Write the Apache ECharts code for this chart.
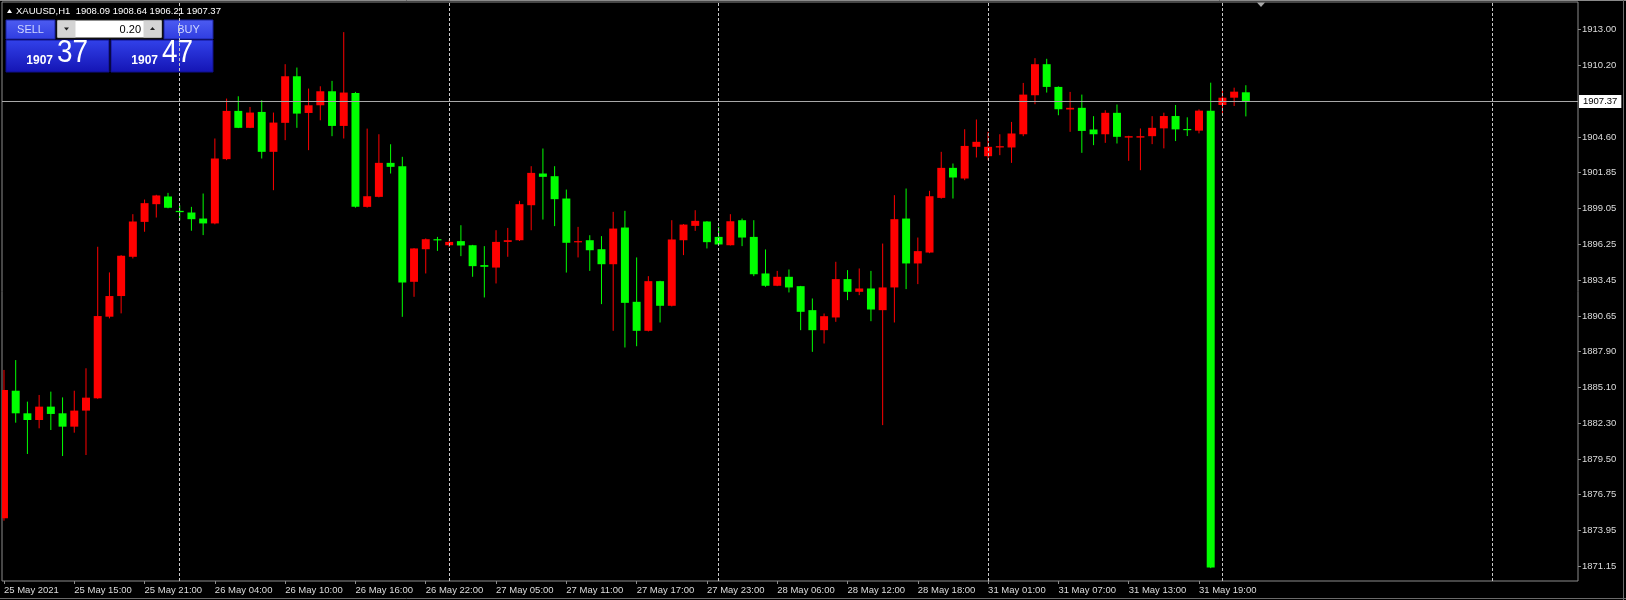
<!DOCTYPE html>
<html><head><meta charset="utf-8">
<script src="https://cdn.jsdelivr.net/npm/echarts@6/dist/echarts.min.js"></script>
<style>html,body{margin:0;padding:0;background:#000;overflow:hidden}#c{width:1626px;height:600px}</style>
</head><body><div id="c"></div>
<script>
// ---- data (XAUUSD H1, bar index 0 = 25 May 2021 09:00) ----
const opens  = [1874.89,1884.83,1883.07,1882.55,1883.59,1883.07,1882.03,1883.28,1884.24,1890.60,
1892.21,1895.27,1897.99,1899.37,1899.97,1898.85,1898.72,1898.25,1897.87,1902.88,
1906.64,1905.32,1906.56,1903.45,1905.71,1909.34,1906.48,1907.08,1908.17,1905.47,
1908.04,1899.16,1899.94,1902.59,1902.33,1893.32,1895.86,1896.64,1896.17,1896.49,
1896.17,1894.62,1894.43,1896.43,1896.56,1899.29,1901.76,1901.55,1899.81,1896.41,
1896.56,1895.86,1894.69,1897.55,1891.76,1889.50,1893.37,1891.45,1896.56,1897.68,
1898.02,1896.82,1896.17,1898.12,1896.82,1893.97,1893.01,1893.71,1892.98,1891.11,
1889.55,1890.54,1893.53,1892.54,1892.80,1891.11,1892.88,1898.25,1894.75,1895.60,
1899.86,1902.20,1901.37,1903.84,1903.11,1903.79,1903.79,1904.82,1907.86,1910.28,
1908.51,1906.75,1906.88,1905.19,1904.82,1906.49,1904.56,1904.56,1904.67,1905.28,
1906.24,1905.23,1905.10,1906.66,1907.10,1907.67,1908.09];
const highs  = [1886.45,1887.22,1883.98,1884.50,1884.76,1884.31,1884.83,1886.58,1896.05,1894.05,
1895.40,1898.59,1899.73,1900.10,1900.25,1899.29,1899.16,1900.20,1904.49,1907.60,
1907.78,1906.95,1907.47,1906.51,1910.28,1910.02,1908.38,1908.56,1908.98,1912.78,
1908.12,1905.26,1904.82,1904.04,1903.06,1895.95,1896.70,1896.82,1896.60,1897.73,
1896.20,1896.10,1897.34,1897.52,1899.63,1902.33,1903.71,1902.33,1900.51,1897.60,
1896.95,1896.88,1898.77,1898.85,1895.22,1893.76,1893.40,1898.12,1897.82,1898.90,
1898.05,1897.60,1898.59,1898.25,1898.12,1895.84,1894.17,1894.28,1893.00,1892.02,
1890.85,1894.88,1894.23,1894.36,1894.17,1896.30,1900.07,1900.59,1896.77,1900.41,
1903.45,1902.54,1905.21,1905.97,1905.01,1904.82,1905.78,1908.82,1910.75,1910.70,
1908.55,1908.12,1907.91,1906.23,1906.69,1907.14,1904.70,1905.27,1906.23,1906.50,
1907.10,1906.14,1906.76,1908.84,1908.40,1908.45,1908.64];
const lows   = [1874.70,1882.34,1879.90,1881.90,1881.77,1879.74,1881.56,1879.82,1884.20,1890.47,
1890.86,1895.14,1897.22,1898.33,1899.05,1898.12,1897.30,1896.96,1897.80,1902.80,
1905.30,1905.30,1902.93,1900.46,1904.36,1905.32,1903.58,1905.91,1904.67,1904.49,
1899.10,1899.10,1899.90,1901.76,1890.59,1892.15,1893.97,1895.73,1896.05,1895.32,
1893.71,1892.10,1893.19,1895.27,1896.50,1897.34,1898.17,1897.66,1894.04,1895.22,
1894.17,1891.58,1889.50,1888.20,1888.30,1889.45,1890.15,1891.40,1895.40,1897.29,
1895.92,1896.20,1896.15,1896.10,1893.76,1892.93,1892.98,1892.49,1889.55,1887.86,
1888.51,1890.20,1891.89,1892.28,1890.25,1882.15,1890.15,1892.75,1893.14,1895.55,
1899.80,1899.81,1901.24,1903.01,1902.80,1903.19,1902.59,1904.67,1907.16,1908.07,
1906.30,1905.01,1903.37,1903.97,1904.15,1904.10,1902.75,1902.02,1904.05,1903.72,
1904.29,1904.68,1904.89,1871.00,1906.40,1907.02,1906.21];
const closes = [1884.89,1883.07,1882.55,1883.59,1883.02,1882.03,1883.28,1884.29,1890.65,1892.21,
1895.35,1898.02,1899.45,1900.05,1899.09,1898.75,1898.20,1897.87,1902.93,1906.64,
1905.32,1906.51,1903.45,1905.73,1909.34,1906.43,1907.08,1908.17,1905.47,1908.07,
1899.16,1899.99,1902.59,1902.28,1893.27,1895.92,1896.64,1896.56,1896.43,1896.15,
1894.54,1894.49,1896.43,1896.56,1899.37,1901.81,1901.50,1899.76,1896.36,1896.49,
1895.78,1894.69,1897.47,1891.68,1889.50,1893.37,1891.45,1896.62,1897.78,1898.07,
1896.41,1896.23,1898.04,1896.77,1893.91,1893.01,1893.71,1892.88,1890.98,1889.55,
1890.64,1893.53,1892.54,1892.80,1891.16,1892.88,1898.20,1894.75,1895.71,1899.99,
1902.20,1901.45,1903.91,1904.23,1903.84,1903.89,1904.88,1907.91,1910.28,1908.51,
1906.77,1906.88,1905.08,1904.82,1906.49,1904.62,1904.67,1904.67,1905.32,1906.24,
1905.20,1905.15,1906.66,1871.05,1907.67,1908.14,1907.37];

const xTickIndex  = [0,6,12,18,24,30,36,42,48,54,60,66,72,78,84,90,96,102];
const xTickLabels = ['25 May 2021','25 May 15:00','25 May 21:00','26 May 04:00','26 May 10:00','26 May 16:00',
  '26 May 22:00','27 May 05:00','27 May 11:00','27 May 17:00','27 May 23:00','28 May 06:00',
  '28 May 12:00','28 May 18:00','31 May 01:00','31 May 07:00','31 May 13:00','31 May 19:00'];
const yTickValues = [1913.00,1910.20,1904.60,1901.85,1899.05,1896.25,1893.45,1890.65,1887.90,
  1885.10,1882.30,1879.50,1876.75,1873.95,1871.15];
const daySeparators = [15,38,61,84,104,127];
const lastPrice = 1907.37;
const headerText = 'XAUUSD,H1  1908.09 1908.64 1906.21 1907.37';
const lotText = '0.20';
const sellQuote = ['1907','37'];
const buyQuote  = ['1907','47'];

// ---- chart ----
const UP = '#ff0000', DOWN = '#00ff00';
const FONT = '"Liberation Sans", Arial, sans-serif';
const candles = opens.map((o,i)=>[i,o,closes[i],lows[i],highs[i]]);

function renderCandle(params, api){
  const i=api.value(0), o=api.value(1), c=api.value(2), l=api.value(3), h=api.value(4);
  const pO=api.coord([i,o]), pC=api.coord([i,c]), pL=api.coord([i,l]), pH=api.coord([i,h]);
  const x=pO[0];
  const bw=api.size([1,0])[0]*0.68;
  const top=Math.min(pO[1],pC[1]), bot=Math.max(pO[1],pC[1]);
  const col = c>=o ? UP : DOWN;
  const cs = params.coordSys;
  const bodyRect = echarts.graphic.clipRectByRect(
    {x:x-bw/2, y:top, width:bw, height:Math.max(bot-top,1.2)},
    {x:cs.x, y:cs.y, width:cs.width, height:cs.height});
  const children = [];
  if (x >= cs.x && x <= cs.x + cs.width) {
    children.push({type:'line', shape:{x1:x,y1:pH[1],x2:x,y2:pL[1]}, style:{stroke:col,lineWidth:1}});
  }
  if (bodyRect) children.push({type:'rect', shape:bodyRect, style:{fill:col}});
  return {type:'group', children:children};
}

const chart = echarts.init(document.getElementById('c'), null, {renderer:'canvas'});

function btn(x,y,w,h,label){
  return [
    {type:'rect', shape:{x:x,y:y,width:w,height:h}, style:{fill:new echarts.graphic.LinearGradient(0,0,0,1,[{offset:0,color:'#4d5cf2'},{offset:1,color:'#2f3de0'}]), stroke:'#1a22a0', lineWidth:1}},
    {type:'text', x:x+w/2, y:y+h/2, style:{text:label, fill:'#cfd6ff', font:'11px '+FONT, align:'center', verticalAlign:'middle'}}
  ];
}
function quote(x,y,w,h,q){
  return [
    {type:'rect', shape:{x:x,y:y,width:w,height:h}, style:{fill:new echarts.graphic.LinearGradient(0,0,0,1,[{offset:0,color:'#3242ea'},{offset:1,color:'#1414b4'}]), stroke:'#10108a', lineWidth:1}},
    {type:'text', x:x+47, y:y+27, style:{text:q[0], fill:'#ffffff', font:'bold 12px '+FONT, align:'right', verticalAlign:'bottom'}},
    {type:'text', x:x+51, y:y+29, scaleX:0.9, style:{text:q[1], fill:'#ffffff', font:'31px '+FONT, align:'left', verticalAlign:'bottom'}}
  ];
}

const graphics = [].concat(
  [
    {type:'line', shape:{x1:0,y1:0.5,x2:1626,y2:0.5}, style:{stroke:'#8a8a8a',lineWidth:1}},
    {type:'line', shape:{x1:1623.5,y1:0,x2:1623.5,y2:600}, style:{stroke:'#6a6a6a',lineWidth:1}},
    {type:'line', shape:{x1:0,y1:598.5,x2:1626,y2:598.5}, style:{stroke:'#6a6a6a',lineWidth:1}},
    {type:'polygon', shape:{points:[[1257,2.5],[1265,2.5],[1261,7]]}, style:{fill:'#a8a8a8'}},
    {type:'polygon', shape:{points:[[7,13],[12,13],[9.5,9]]}, style:{fill:'#ffffff'}},
    {type:'text', x:16, y:11, style:{text:headerText, fill:'#ffffff', font:'9.5px '+FONT, verticalAlign:'middle'}}
  ],
  btn(6,20,49,19,'SELL'),
  btn(164,20,49,19,'BUY'),
  [
    {type:'rect', shape:{x:57,y:20,width:105,height:18}, style:{fill:'#ffffff', stroke:'#202020', lineWidth:1}},
    {type:'rect', shape:{x:57.5,y:20.5,width:18,height:17}, style:{fill:'#d4d4d4'}},
    {type:'rect', shape:{x:143.5,y:20.5,width:18,height:17}, style:{fill:'#d4d4d4'}},
    {type:'polygon', shape:{points:[[64,27.5],[69,27.5],[66.5,30.5]]}, style:{fill:'#202020'}},
    {type:'polygon', shape:{points:[[150,30],[155,30],[152.5,27]]}, style:{fill:'#202020'}},
    {type:'text', x:141, y:29.5, style:{text:lotText, fill:'#000000', font:'11px '+FONT, align:'right', verticalAlign:'middle'}}
  ],
  quote(6,40,103,32,sellQuote),
  quote(111,40,102,32,buyQuote)
);

const option = {
  backgroundColor:'#000000',
  animation:false,
  grid:{left:2, top:2, width:1576, height:579, show:true, borderColor:'#8c8c8c', borderWidth:1,
        backgroundColor:'transparent', containLabel:false, outerBoundsMode:'none'},
  xAxis:{
    type:'value', min:-0.169, max:134.35,
    axisLine:{show:false, onZero:false}, splitLine:{show:false},
    axisTick:{show:true, customValues:xTickIndex, length:3, inside:false, lineStyle:{color:'#8c8c8c'}},
    axisLabel:{show:true, customValues:xTickIndex, align:'left', margin:4, color:'#dcdcdc',
      fontFamily:FONT, fontSize:9.5,
      formatter:function(v){const k=xTickIndex.indexOf(Math.round(v)); return k>=0?xTickLabels[k]:'';}}
  },
  yAxis:{
    type:'value', position:'right', min:1870.0, max:1915.128, scale:true,
    axisLine:{show:false, onZero:false}, splitLine:{show:false},
    axisTick:{show:true, customValues:yTickValues, length:3, inside:false, lineStyle:{color:'#8c8c8c'}},
    axisLabel:{show:true, customValues:yTickValues, margin:4, color:'#dcdcdc',
      fontFamily:FONT, fontSize:9.5, formatter:function(v){return v.toFixed(2);}}
  },
  graphic:graphics,
  series:[
    {
      type:'custom', name:'XAUUSD', renderItem:renderCandle, data:candles, clip:true,
      encode:{x:0, y:[1,2,3,4]},
      markLine:{
        silent:true, symbol:['none','none'], animation:false,
        data:[
          ...daySeparators.map(v=>({xAxis:v, lineStyle:{color:'#c8c8c8', type:[3,2], width:1}, label:{show:false}})),
          {yAxis:lastPrice, lineStyle:{color:'#a8a8a8', type:'solid', width:1},
           label:{show:true, position:'end', distance:1, formatter:lastPrice.toFixed(2),
             backgroundColor:'#ffffff', color:'#000000', padding:[2,4,1,4],
             fontFamily:FONT, fontSize:9.5}}
        ]
      }
    }
  ]
};
chart.setOption(option);
</script>
</body></html>
